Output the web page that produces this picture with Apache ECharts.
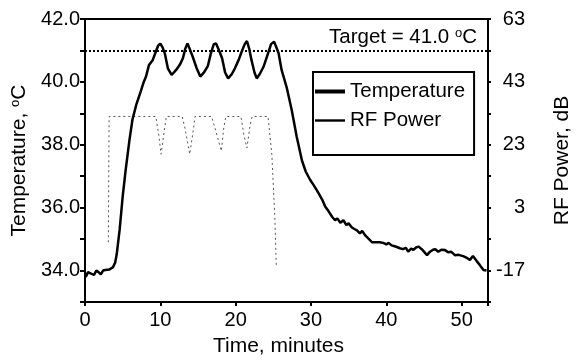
<!DOCTYPE html>
<html><head><meta charset="utf-8">
<script src="https://cdn.jsdelivr.net/npm/echarts@6/dist/echarts.min.js"></script>
<style>html,body{margin:0;padding:0;background:#fff}#c{width:577px;height:360px}</style>
</head><body><div id="c"></div>
<script>
// Temperature (deg C) vs time (minutes)
const tempTime = [0.1,0.4,0.8,1.2,1.5,1.8,2.1,2.4,2.7,3.2,3.7,4.0,4.2,4.6,5.0,5.4,5.9,6.3,6.8,7.4,7.8,8.1,8.5,9.0,9.4,9.7,10.0,10.3,10.6,11.0,11.5,12.1,12.6,13.0,13.3,13.6,13.9,14.3,14.8,15.3,15.8,16.3,16.7,17.1,17.4,17.8,18.2,18.6,19.0,19.5,19.9,20.4,20.8,21.2,21.5,21.8,22.1,22.5,22.8,23.2,23.7,24.3,24.7,25.1,25.4,25.7,26.1,26.8,27.45,28.1,28.8,29.3,29.9,30.4,31.0,31.5,31.9,32.3,32.8,33.2,33.5,33.9,34.3,34.7,35.0,35.4,35.7,36.1,36.5,36.8,37.2,37.7,38.1,38.6,39.1,39.6,40.0,40.3,40.7,41.0,41.4,41.8,42.2,42.6,42.9,43.3,43.6,44.0,44.3,44.7,45.0,45.4,45.8,46.2,46.5,46.9,47.3,47.8,48.2,48.6,49.1,49.6,50.2,50.7,51.1,51.5,51.7,52.0,52.4,52.9,53.3];
const tempValue = [33.8,33.95,33.9,33.86,34.0,33.95,33.88,34.0,34.02,34.03,34.1,34.25,34.5,35.3,36.35,37.2,38.15,38.8,39.27,39.7,40.0,40.17,40.54,40.7,40.96,41.15,41.22,41.1,40.9,40.43,40.22,40.38,40.55,40.75,41.05,41.22,41.05,40.8,40.45,40.17,40.3,40.5,40.9,41.2,41.22,41.0,40.75,40.3,40.11,40.25,40.43,40.7,40.96,41.2,41.3,41.05,40.7,40.3,40.11,40.25,40.48,40.91,41.2,41.28,41.1,40.91,40.38,39.8,39.1,38.26,37.5,37.15,36.88,36.7,36.46,36.25,36.03,35.9,35.71,35.6,35.66,35.52,35.6,35.45,35.5,35.38,35.33,35.28,35.18,35.26,35.12,35.0,34.9,34.9,34.9,34.88,34.83,34.88,34.8,34.78,34.75,34.71,34.68,34.72,34.6,34.7,34.66,34.74,34.76,34.68,34.6,34.49,34.6,34.66,34.68,34.6,34.66,34.65,34.58,34.6,34.49,34.5,34.46,34.4,34.34,34.46,34.5,34.3,34.18,34.02,34.0];
// RF power (dB) vs time (minutes)
const rfTime = [3.1,3.2,9.4,9.8,10.1,10.5,10.8,12.9,13.3,13.9,14.4,14.6,16.8,17.3,18.1,18.4,18.7,20.7,21.1,21.5,21.9,22.2,24.3,24.8,25.2,25.4];
const rfValue = [-8,32,32,26,20,27,32,32,28,20,28,32,32,28,21,28,32,32,26,22,29,32,32,20,0,-16];
const targetTemp = 41.0;
const xTicks = [0,10,20,30,40,50];
const leftTicks = [34,36,38,40,42];
const rightTicks = [-17,3,23,43,63];

const FF = "'Liberation Sans', Arial, sans-serif";
const chart = echarts.init(document.getElementById('c'), null, {renderer:'canvas'});
const has = (arr, v) => arr.some(a => Math.abs(a - v) < 1e-6);
chart.setOption({
  animation: false,
  backgroundColor: '#fff',
  textStyle: {fontFamily: FF, color: '#000'},
  grid: {left: 85, right: 89, top: 19, bottom: 58, show: true, borderColor: '#000', borderWidth: 2, outerBoundsMode: 'none', containLabel: false},
  xAxis: {
    type: 'value', min: 0, max: 53.5, interval: 10,
    name: 'Time, minutes', nameLocation: 'middle', nameGap: 34,
    nameTextStyle: {fontSize: 21, color: '#000', fontFamily: FF, padding: [0, 16, 0, 0]},
    axisLine: {show: true, onZero: false, lineStyle: {color: '#000', width: 2}},
    axisTick: {show: true, length: 4, lineStyle: {color: '#000', width: 2}},
    axisLabel: {fontSize: 20, color: '#000', fontFamily: FF, margin: 8, formatter: v => has(xTicks, v) ? String(Math.round(v)) : ''},
    splitLine: {show: false}
  },
  yAxis: [{
    type: 'value', min: 33, max: 42, interval: 1, position: 'left',
    name: 'Temperature, {s|o}C', nameLocation: 'middle', nameGap: 50, nameRotate: 90,
    nameTextStyle: {fontSize: 21, color: '#000', fontFamily: FF, padding: [0, 0, 0, 0], rich: {s: {fontSize: 13, verticalAlign: 'top', fontFamily: FF, color: '#000'}}},
    axisLine: {show: true, onZero: false, lineStyle: {color: '#000', width: 2}},
    axisTick: {show: true, length: 5, lineStyle: {color: '#000', width: 2}},
    axisLabel: {fontSize: 20, color: '#000', fontFamily: FF, margin: 5, formatter: v => has(leftTicks, v) ? v.toFixed(1) : ''},
    splitLine: {show: false}
  }, {
    type: 'value', min: -27, max: 63, interval: 10, position: 'right',
    name: 'RF Power, dB', nameLocation: 'middle', nameGap: 64, nameRotate: 90,
    nameTextStyle: {fontSize: 21, color: '#000', fontFamily: FF},
    axisLine: {show: true, onZero: false, lineStyle: {color: '#000', width: 2}},
    axisTick: {show: true, length: 3, lineStyle: {color: '#000', width: 2}},
    axisLabel: {fontSize: 20, color: '#000', fontFamily: FF, margin: 37, align: 'right', formatter: v => has(rightTicks, v) ? String(Math.round(v)) : ''},
    splitLine: {show: false}
  }],
  legend: {
    orient: 'vertical', left: 313, top: 72, padding: [9, 9, 24, 2], itemGap: 8,
    itemWidth: 30, itemHeight: 14, borderColor: '#000', borderWidth: 2, borderRadius: 0,
    backgroundColor: '#fff', symbolKeepAspect: true,
    textStyle: {fontSize: 20.5, color: '#000', fontFamily: FF},
    data: [
      {name: 'Temperature', icon: 'path://M0,0 L30,0 L30,4 L0,4 Z', itemStyle: {color: '#000', borderWidth: 0}},
      {name: 'RF Power', icon: 'path://M0,0 L30,0 L30,2.4 L0,2.4 Z', itemStyle: {color: '#000', borderWidth: 0}}
    ]
  },
  graphic: [{
    type: 'text', right: 100, top: 27,
    style: {text: 'Target = 41.0 {s|o}C', fontSize: 20.5, fontFamily: FF, fill: '#000',
      rich: {s: {fontSize: 13, verticalAlign: 'top', fontFamily: FF, fill: '#000'}}}
  }],
  series: [{
    name: 'Temperature', type: 'line', symbol: 'none', showSymbol: false, z: 5,
    data: tempTime.map((t, i) => [t, tempValue[i]]),
    lineStyle: {color: '#000', width: 2.5}, itemStyle: {color: '#000'},
    markLine: {silent: true, symbol: ['none', 'none'], label: {show: false},
      lineStyle: {color: '#000', width: 2, type: [2, 2]}, data: [{yAxis: targetTemp}]}
  }, {
    name: 'RF Power', type: 'line', symbol: 'none', showSymbol: false, yAxisIndex: 1, z: 3,
    data: rfTime.map((t, i) => [t, rfValue[i]]),
    lineStyle: {color: '#555', width: 1, type: [2, 3]}, itemStyle: {color: '#555'}
  }]
});
</script></body></html>
